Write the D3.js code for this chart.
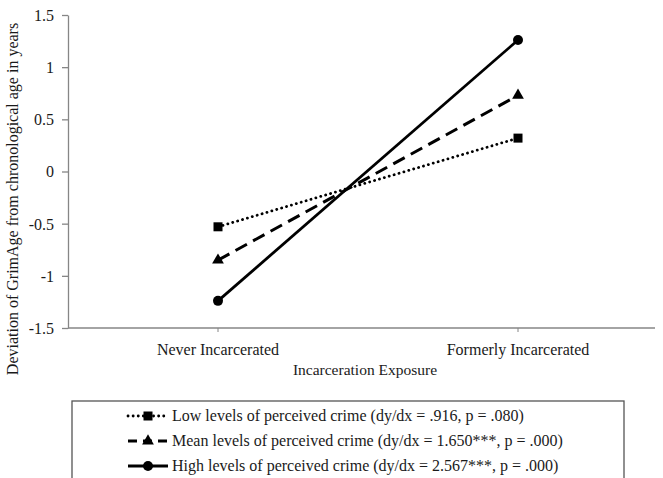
<!DOCTYPE html>
<html>
<head>
<meta charset="utf-8">
<script src="https://cdn.jsdelivr.net/npm/d3@7"></script>
<style>
  html, body { margin: 0; padding: 0; background: #fff; }
  svg { display: block; font-family: "Liberation Serif", "DejaVu Serif", serif; }
</style>
</head>
<body>
<svg id="chart" width="663" height="478"></svg>
<script>
const categories = ["Never Incarcerated", "Formerly Incarcerated"];
const lowValues = [-0.53, 0.32];
const meanValues = [-0.85, 0.73];
const highValues = [-1.24, 1.26];
const yTicks = [-1.5, -1, -0.5, 0, 0.5, 1, 1.5];
const yTickLabels = ["-1.5", "-1", "-0.5", "0", "0.5", "1", "1.5"];
const seriesNames = [
  "Low levels of perceived crime (dy/dx = .916, p = .080)",
  "Mean levels of perceived crime (dy/dx = 1.650***, p = .000)",
  "High levels of perceived crime (dy/dx = 2.567***, p = .000)"
];
const yTitle = "Deviation of GrimAge from chronological age in years";
const xTitle = "Incarceration Exposure";

const series = [
  { name: seriesNames[0], values: lowValues, dash: "0.1 5", width: 2.8, cap: "round", marker: "square" },
  { name: seriesNames[1], values: meanValues, dash: "13 7", width: 3, cap: "butt", marker: "triangle" },
  { name: seriesNames[2], values: highValues, dash: null, width: 2.8, cap: "butt", marker: "circle" }
];

const svg = d3.select("#chart");
const mLeft = 68, mTop = 15, mBottom = 328, axisRight = 655;

const x = d3.scaleBand().domain(categories).range([mLeft, mLeft + 600]).padding(0);
const y = d3.scaleLinear().domain([-1.5, 1.5]).range([mBottom, mTop]);
const cx = d => x(d) + x.bandwidth() / 2;

const axisColor = "#868686";
const textColor = "#1a1a1a";

// Y axis
const yAxis = svg.append("g").attr("transform", `translate(${mLeft},0)`)
  .call(d3.axisLeft(y).tickValues(yTicks).tickSize(6).tickSizeOuter(0)
    .tickFormat((d, i) => yTickLabels[i]));
yAxis.select(".domain").attr("stroke", axisColor).attr("stroke-width", 1.3);
yAxis.selectAll(".tick line").attr("stroke", axisColor).attr("stroke-width", 1.3);
yAxis.selectAll(".tick text").attr("font-size", 16).attr("font-family", "Liberation Serif")
  .attr("fill", textColor).attr("x", -14).attr("dy", "0.34em");

// X axis
const xAxis = svg.append("g").attr("transform", `translate(0,${mBottom})`)
  .call(d3.axisBottom(x).tickSize(4).tickSizeOuter(0));
xAxis.select(".domain").remove();
xAxis.append("line").attr("x1", mLeft).attr("x2", axisRight).attr("y1", 0).attr("y2", 0)
  .attr("stroke", axisColor).attr("stroke-width", 1.3);
xAxis.selectAll(".tick line").attr("stroke", axisColor).attr("stroke-width", 1);
xAxis.selectAll(".tick text").attr("font-size", 16).attr("font-family", "Liberation Serif")
  .attr("fill", textColor).attr("y", 16).attr("dy", "0.71em");

// Axis titles
svg.append("text").attr("x", 365).attr("y", 375).attr("text-anchor", "middle")
  .attr("font-size", 15.5).attr("fill", textColor).text(xTitle);
svg.append("text").attr("transform", "translate(18,199) rotate(-90)")
  .attr("text-anchor", "middle").attr("font-size", 16).attr("fill", textColor).text(yTitle);

// Markers
function drawMarker(g, type, px, py) {
  if (type === "square") {
    g.append("rect").attr("x", px - 4.5).attr("y", py - 4.5).attr("width", 9).attr("height", 9).attr("fill", "#000");
  } else if (type === "triangle") {
    g.append("path").attr("d", d3.symbol().type(d3.symbolTriangle).size(60)())
      .attr("transform", `translate(${px},${py})`).attr("fill", "#000");
  } else {
    g.append("circle").attr("cx", px).attr("cy", py).attr("r", 5).attr("fill", "#000");
  }
}

const line = d3.line().x((d, i) => cx(categories[i])).y(d => y(d));
const plot = svg.append("g");
series.forEach(s => {
  plot.append("path").datum(s.values).attr("d", line)
    .attr("fill", "none").attr("stroke", "#000").attr("stroke-width", s.width)
    .attr("stroke-dasharray", s.dash).attr("stroke-linecap", s.cap);
});
series.forEach(s => {
  s.values.forEach((v, i) => drawMarker(plot, s.marker, cx(categories[i]), y(v)));
});

// Legend
const leg = svg.append("g");
leg.append("rect").attr("x", 72).attr("y", 401).attr("width", 552).attr("height", 90)
  .attr("fill", "none").attr("stroke", "#555").attr("stroke-width", 1.3);
const rowY = [416, 441, 466];
series.forEach((s, i) => {
  const yy = rowY[i];
  leg.append("line").attr("x1", 128).attr("x2", 168).attr("y1", yy).attr("y2", yy)
    .attr("stroke", "#000").attr("stroke-width", s.width)
    .attr("stroke-dasharray", s.marker === "square" ? "0.1 5" : (s.marker === "triangle" ? "9 6" : null))
    .attr("stroke-linecap", s.cap);
  drawMarker(leg, s.marker, 148, yy);
  leg.append("text").attr("x", 172).attr("y", yy).attr("dy", "0.33em")
    .attr("font-size", 16).attr("fill", textColor).text(s.name);
});
</script>
</body>
</html>
